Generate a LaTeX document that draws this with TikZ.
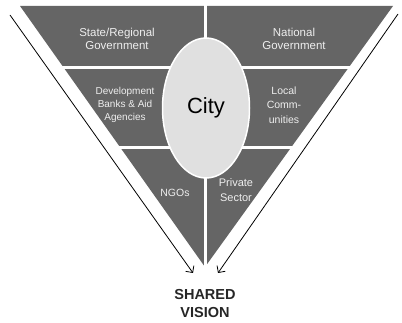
\documentclass[tikz,border=0pt]{standalone}
\usepackage{fontspec}
\setmainfont{Liberation Sans}
\usetikzlibrary{arrows.meta,shapes.geometric}
\definecolor{panel}{HTML}{656565}
\definecolor{cityfill}{HTML}{E0E0E0}
\definecolor{ptext}{HTML}{EEEEEE}
\begin{document}
\begin{tikzpicture}[x=1pt,y=-1pt,
  lbl/.style={text=ptext, align=center, inner sep=0pt},
  arr/.style={draw=black, line width=0.8pt, -{Straight Barb[length=5pt,width=10pt]}},
  gap/.style={draw=white, line width=3pt}]
\useasboundingbox (0,0) rectangle (402,323);
\fill[panel] (20,6) -- (393,6) -- (205,267) -- cycle;
\draw[gap] (15,68) -- (398,68);
\draw[gap] (15,148) -- (398,148);
\draw[gap] (205,0) -- (205,275);
\node (city) [ellipse, draw=white, line width=1.5pt, fill=cityfill, minimum width=87pt, minimum height=140pt, inner sep=0pt, font=\fontsize{22}{26}\selectfont] at (206,108) {City};
\node (sr) [lbl, font=\fontsize{11.5}{13}\selectfont] at (117,38.5) {State/Regional\\Government};
\node (ng) [lbl, font=\fontsize{11.5}{13}\selectfont] at (294,38.5) {National\\Government};
\node (dev) [lbl, font=\fontsize{10}{13}\selectfont] at (125,105) {Development\\Banks \& Aid\\Agencies};
\node (loc) [lbl, font=\fontsize{10.5}{14.5}\selectfont] at (284,105) {Local\\Comm-\\unities};
\node (ngo) [lbl, font=\fontsize{10.5}{13}\selectfont] at (175,193) {NGOs};
\node (priv) [lbl, font=\fontsize{11}{15}\selectfont] at (236,190) {Private\\Sector};
\node (sv) [font=\bfseries\fontsize{14.5}{18}\selectfont, align=center, text=black!85, inner sep=0pt] at (205,304) {SHARED\\VISION};
\coordinate (la) at (10,15);
\coordinate (lb) at (193,273);
\coordinate (ra) at (398,14);
\coordinate (rb) at (218,273);
\draw[arr] (la) -- (lb);
\draw[arr] (ra) -- (rb);
\end{tikzpicture}
\end{document}
